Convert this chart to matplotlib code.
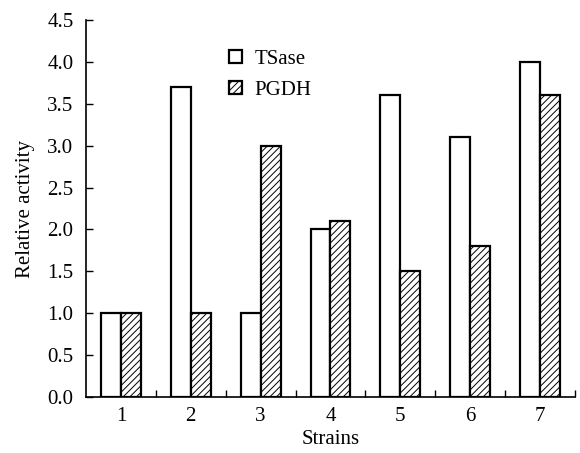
import matplotlib
matplotlib.use("Agg")
import matplotlib.pyplot as plt
import numpy as np

strains = ["1", "2", "3", "4", "5", "6", "7"]
tsase = [1.0, 3.7, 1.0, 2.0, 3.6, 3.1, 4.0]
pgdh = [1.0, 1.0, 3.0, 2.1, 1.5, 1.8, 3.6]
yticks = [0.0, 0.5, 1.0, 1.5, 2.0, 2.5, 3.0, 3.5, 4.0, 4.5]

plt.rcParams['font.family'] = ['Liberation Serif', 'DejaVu Serif']
plt.rcParams['hatch.linewidth'] = 0.7
plt.rcParams['hatch.color'] = '#555555'

fig = plt.figure(figsize=(5.8, 4.53), dpi=100)
ax = fig.add_axes([86/580, 56/453, 489/580, 377/453])

x = np.arange(1, len(strains) + 1)
w = 0.2857
ax.bar(x - w/2, tsase, width=w, color='white', edgecolor='black', linewidth=1.6, label='TSase')
ax.bar(x + w/2, pgdh, width=w, color='white', edgecolor='black', linewidth=1.6, hatch='/////', label='PGDH')

ax.set_xlim(0.5, 7.5)
ax.set_ylim(0, 4.5)
ax.set_yticks(yticks)
ax.set_yticklabels([f"{v:.1f}" for v in yticks])
ax.set_xticks(x)
ax.set_xticklabels(strains)
ax.set_xticks(np.arange(1.5, 8.0, 1.0), minor=True)
ax.tick_params(axis='x', which='major', length=0, labelsize=15, pad=7)
ax.tick_params(axis='x', which='minor', direction='in', length=5, width=1)
ax.tick_params(axis='y', direction='in', length=5, width=1, labelsize=15, pad=9)
for s in ['top', 'right']:
    ax.spines[s].set_visible(False)
for s in ['left', 'bottom']:
    ax.spines[s].set_linewidth(1.2)

ax.set_xlabel('Strains', fontsize=15, labelpad=3)
ax.set_ylabel('Relative activity', fontsize=15, labelpad=9)

ax.legend(loc='upper left', bbox_to_anchor=(0.255, 0.97), frameon=False, fontsize=15,
          handlelength=0.6, handleheight=0.6, handletextpad=0.6, labelspacing=0.55)

fig.savefig('out.png', dpi=100)
